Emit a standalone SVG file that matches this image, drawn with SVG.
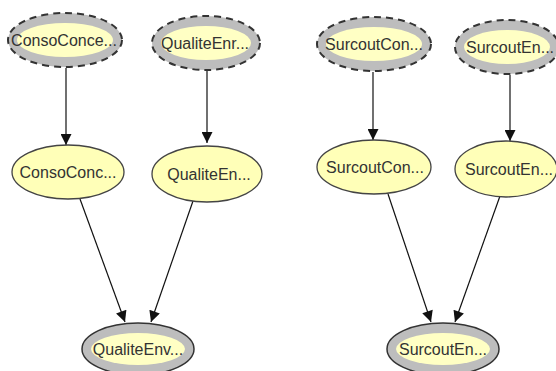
<svg xmlns="http://www.w3.org/2000/svg" width="556" height="371" viewBox="0 0 556 371">
<style>
.ring{fill:#bdbdbd;stroke:#333;stroke-width:1.5}
.dash{stroke-dasharray:7,5;stroke-width:2}
.inner{fill:#ffffc4;stroke:none}
.mid{fill:#ffffb8;stroke:#444;stroke-width:1.3}
.lbl{font-family:"Liberation Sans",Arial,sans-serif;font-size:16px;fill:#333;text-anchor:middle}
.edge{stroke:#111;stroke-width:1.2;fill:none;marker-end:url(#ah)}
</style>
<defs>
<marker id="ah" viewBox="0 0 10 10" refX="10" refY="5" markerWidth="13" markerHeight="11" markerUnits="userSpaceOnUse" orient="auto">
<path d="M0,0 L10,5 L0,10 z" fill="#111"/>
</marker>
</defs>
<rect width="556" height="371" fill="#fff"/>
<g id="connectors">
<line class="edge" x1="66" y1="68" x2="66" y2="145"/>
<line class="edge" x1="207" y1="70" x2="207" y2="143"/>
<line class="edge" x1="373" y1="72" x2="373" y2="140"/>
<line class="edge" x1="510" y1="75" x2="510" y2="141"/>
<line class="edge" x1="80" y1="199" x2="125" y2="322"/>
<line class="edge" x1="193" y1="201" x2="151" y2="322"/>
<line class="edge" x1="388" y1="194" x2="431" y2="322"/>
<line class="edge" x1="500" y1="196" x2="455" y2="322"/>
</g>
<g id="n1">
<ellipse class="ring dash" cx="65" cy="40" rx="57" ry="27"/>
<ellipse class="inner" cx="65" cy="40" rx="48" ry="17"/>
<text class="lbl" x="64" y="46">ConsoConce...</text>
</g>
<g id="n2">
<ellipse class="ring dash" cx="206" cy="43" rx="54" ry="27"/>
<ellipse class="inner" cx="206" cy="43" rx="45" ry="17"/>
<text class="lbl" x="205" y="49">QualiteEnr...</text>
</g>
<g id="n3">
<ellipse class="ring dash" cx="374" cy="44" rx="57" ry="27"/>
<ellipse class="inner" cx="374" cy="44" rx="48" ry="17"/>
<text class="lbl" x="374" y="50">SurcoutCon...</text>
</g>
<g id="n4">
<ellipse class="ring dash" cx="507" cy="47" rx="52" ry="27"/>
<ellipse class="inner" cx="507" cy="47" rx="43" ry="17"/>
<text class="lbl" x="510" y="53">SurcoutEn...</text>
</g>
<g id="n5">
<ellipse class="mid" cx="68" cy="172" rx="56" ry="27"/>
<text class="lbl" x="68" y="178">ConsoConc...</text>
</g>
<g id="n6">
<ellipse class="mid" cx="207" cy="174" rx="55" ry="28"/>
<text class="lbl" x="209" y="180">QualiteEn...</text>
</g>
<g id="n7">
<ellipse class="mid" cx="374" cy="167" rx="57" ry="27"/>
<text class="lbl" x="375" y="173">SurcoutCon...</text>
</g>
<g id="n8">
<ellipse class="mid" cx="506" cy="169" rx="51" ry="28"/>
<text class="lbl" x="509" y="175">SurcoutEn...</text>
</g>
<g id="n9">
<ellipse class="ring" cx="138" cy="349" rx="56" ry="26"/>
<ellipse class="inner" cx="138" cy="349" rx="47" ry="16"/>
<text class="lbl" x="138" y="355">QualiteEnv...</text>
</g>
<g id="n10">
<ellipse class="ring" cx="443" cy="349" rx="56" ry="26"/>
<ellipse class="inner" cx="443" cy="349" rx="47" ry="16"/>
<text class="lbl" x="443" y="355">SurcoutEn...</text>
</g>
</svg>
